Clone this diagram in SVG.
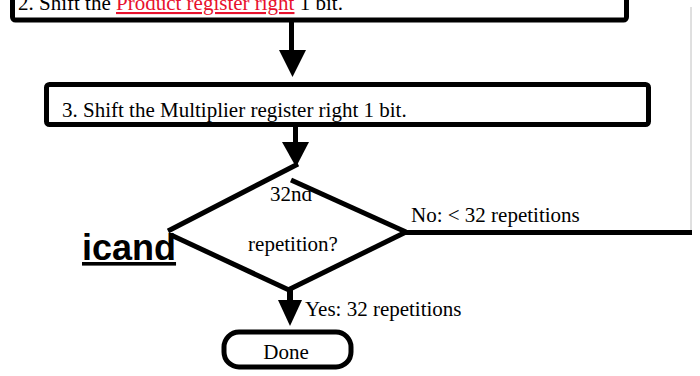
<svg xmlns="http://www.w3.org/2000/svg" width="700" height="376" viewBox="0 0 700 376">
<style>
.box{fill:#fff;stroke:#000;stroke-width:5}
.edge{stroke:#000;stroke-width:5;fill:none}
.t{font-family:"Liberation Serif","Times New Roman",serif;font-size:21px;fill:#000}
.red{fill:#e8112d}
.ah{fill:#000}
</style>
<rect width="700" height="376" fill="#fff"/>
<g id="step2">
<rect class="box" x="12.5" y="-30" width="614" height="50" rx="3"/>
<text class="t" x="18" y="10">2. Shift the <tspan class="red" text-decoration="underline">Product register right</tspan> 1 bit.</text>
</g>
<g id="step3">
<rect class="box" x="46.5" y="84.5" width="602" height="40" rx="3"/>
<text class="t" x="62" y="117">3. Shift the Multiplier register right 1 bit.</text>
</g>
<g id="label">
<text x="82" y="260" style="font-family:'Liberation Sans',Arial,sans-serif;font-weight:bold;font-size:36px" text-decoration="underline">icand</text>
</g>
<g id="decision">
<line class="edge" x1="168" y1="231" x2="298" y2="164"/>
<line class="edge" x1="171" y1="235" x2="289" y2="290"/>
<line class="edge" x1="288" y1="290" x2="406" y2="232"/>
<line class="edge" x1="291" y1="180" x2="406" y2="232"/>
<text class="t" x="291" y="201" text-anchor="middle">32nd</text>
<text class="t" x="293" y="251" text-anchor="middle">repetition?</text>
</g>
<g id="done">
<rect class="box" x="224" y="332" width="127" height="35" rx="15"/>
<text class="t" x="286" y="359" text-anchor="middle">Done</text>
</g>
<g id="connectors">
<rect x="289" y="22" width="5" height="29"/>
<polygon class="ah" points="279,50 306,50 292.5,77"/>
<rect x="293" y="127" width="5" height="16"/>
<polygon class="ah" points="282,142 309,142 296,167"/>
<line class="edge" x1="405" y1="232.5" x2="692" y2="232.5"/>
<line x1="691" y1="7" x2="691" y2="230" stroke="#c0c0c0" stroke-width="1"/>
<rect x="287" y="290" width="6" height="11"/>
<polygon class="ah" points="278,300 302,300 290,326"/>
<text class="t" x="411" y="222">No: &lt; 32 repetitions</text>
<text class="t" x="305" y="316">Yes: 32 repetitions</text>
</g>
</svg>
